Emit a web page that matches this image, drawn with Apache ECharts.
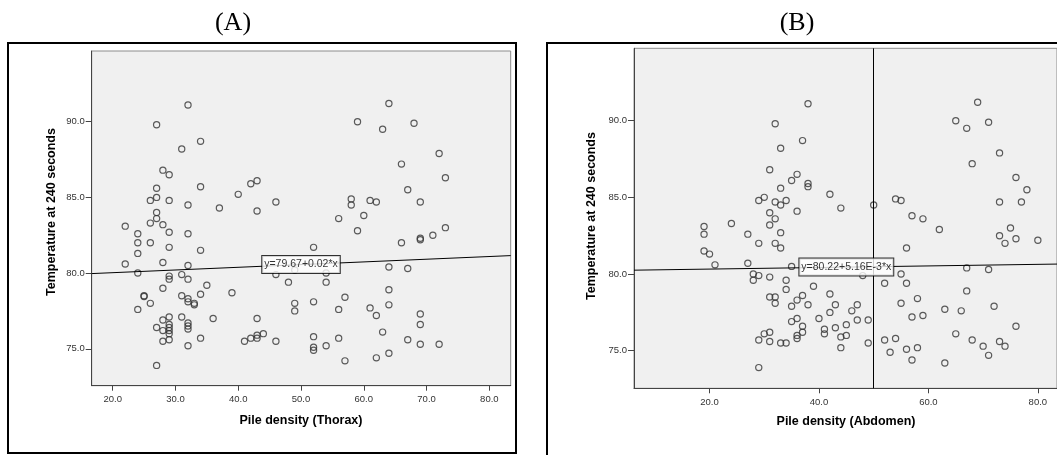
<!DOCTYPE html>
<html><head><meta charset="utf-8">
<script src="https://cdn.jsdelivr.net/npm/echarts@6/dist/echarts.min.js"></script>
<style>html,body{margin:0;padding:0;background:#fff;}#c{width:1057px;height:455px;}</style>
</head><body><div id="c"></div>
<script>
// Panel A: Pile density (Thorax) vs Temperature at 240 seconds
const thoraxX = [32,27,34,31,28,29,27,34,42,43,40,27,26,29,32,37,43,46,27,27,26,22,28,
  24,29,32,24,26,29,24,34,22,28,32,24,31,29,29,32,35,28,39,25,25,31,34,32,32,33,33,26,24,29,31,36,43,28,32,29,32,27,29,32,29,28,29,29,28,34,41,42,43,43,44,46,32,27,
  64,59,63,68,72,66,73,67,58,58,61,62,69,60,56,59,73,71,69,69,66,52,49,46,54,48,54,64,67,64,57,52,49,49,56,61,62,64,69,69,63,67,69,72,52,52,52,54,56,57,62,64];
const thoraxY = [91.1,89.8,88.7,88.2,86.8,86.5,85.6,85.7,85.9,86.1,85.2,85.0,84.8,84.8,84.5,84.3,84.1,84.7,84.0,83.6,83.3,83.1,83.2,
  82.6,82.7,82.6,82.0,82.0,81.7,81.3,81.5,80.6,80.7,80.5,80.0,79.9,79.8,79.6,79.6,79.2,79.0,78.7,78.5,78.45,78.5,78.6,78.3,78.1,78.0,77.9,78.0,77.6,77.1,77.1,77.0,77.0,76.9,76.7,76.6,76.5,76.4,76.4,76.3,76.2,76.2,76.0,75.6,75.5,75.7,75.5,75.7,75.7,75.9,76.0,75.5,75.2,73.9,
  91.2,90.0,89.5,89.9,87.9,87.2,86.3,85.5,84.9,84.5,84.8,84.7,84.7,83.8,83.6,82.8,83.0,82.5,82.3,82.2,82.0,81.7,80.2,79.9,80.0,79.4,79.4,80.4,80.3,78.9,78.4,78.1,78.0,77.5,77.6,77.7,77.2,77.9,77.3,76.6,76.1,75.6,75.3,75.3,75.8,75.1,74.9,75.2,75.7,74.2,74.4,74.7];

// Panel B: Pile density (Abdomen) vs Temperature at 240 seconds
const abdomenX = [32,33,31,36,35,33,30,29,32,34,33,36,31,32,31,19,24,
  38,37,38,38,42,44,50,69,65,67,71,73,68,76,78,73,77,54,55,57,59,62,75,
  73,76,74,80,56,35,67,71,55,48,52,56,39,42,37,36,38,35,43,47,46,42,58,55,63,66,57,59,67,72,76,36,35,40,49,47,37,37,41,41,43,45,45,44,36,36,44,49,52,54,53,56,58,57,63,65,68,70,71,73,74,
  19,27,33,29,32,33,19,20,21,27,28,29,28,31,34,34,31,32,32,31,30,29,31,33,34,29];
const abdomenY = [89.8,88.2,86.8,86.5,86.1,85.6,85.0,84.8,84.7,84.8,84.5,84.1,84.0,83.6,83.2,83.1,83.3,
  91.1,88.7,85.9,85.7,85.2,84.3,84.5,91.2,90.0,89.5,89.9,87.9,87.2,86.3,85.5,84.7,84.7,84.9,84.8,83.8,83.6,82.9,83.0,
  82.5,82.3,82.0,82.2,81.7,80.5,80.4,80.3,80.0,79.9,79.4,79.4,79.2,78.7,78.6,78.3,78.0,77.9,78.0,78.0,77.6,77.5,78.4,78.1,77.7,77.6,77.2,77.3,78.9,77.9,76.6,77.1,76.9,77.1,77.0,77.0,76.6,76.2,76.4,76.1,76.5,76.7,76.0,75.9,76.0,75.8,75.2,75.5,75.7,75.8,74.9,75.1,75.2,74.4,74.2,76.1,75.7,75.3,74.7,75.6,75.3,
  82.6,82.6,82.7,82.0,82.0,81.7,81.5,81.3,80.6,80.7,80.0,79.9,79.6,79.8,79.6,79.0,78.5,78.5,78.1,76.2,76.1,75.7,75.6,75.5,75.5,73.9];

const xTicksA = [20,30,40,50,60,70,80];
const xTicksB = [20,40,60,80];
const yTicks = [75,80,85,90];
const fitA = [79.67, 0.0178];   // intercept, slope (drawn line)
const fitB = [80.22, 0.00516];
const fitLabelA = 'y=79.67+0.02*x';
const fitLabelB = 'y=80.22+5.16E-3*x';
const refLineB = [50];
const panelTitles = ['(A)', '(B)'];
const xNames = ['Pile density (Thorax)', 'Pile density (Abdomen)'];
const yName = 'Temperature at 240 seconds';

const zip = (xs, ys) => xs.map((x, i) => [x, ys[i]]);
const rangeA = {xmin: 16.66, xmax: 83.4, ymin: 72.56, ymax: 94.67};
const rangeB = {xmin: 6.2, xmax: 83.5, ymin: 72.55, ymax: 94.72};
const fitLine = (f, r) => [[r.xmin, f[0] + f[1] * r.xmin], [r.xmax, f[0] + f[1] * r.xmax]];
const fitPoint = (f, x) => [[x, f[0] + f[1] * x]];

const FONT = '"Liberation Sans", Arial, sans-serif';
const tickLabel = {fontSize: 9.5, color: '#333', fontFamily: FONT};

function xAxis(idx, r, ticks) {
  return {
    type: 'value', gridIndex: idx, min: r.xmin, max: r.xmax,
    axisLine: {show: true, lineStyle: {color: '#444', width: 1}},
    axisTick: {show: true, length: 5, customValues: ticks, lineStyle: {color: '#444'}},
    axisLabel: {customValues: ticks, margin: 9, formatter: v => v.toFixed(1), ...tickLabel},
    splitLine: {show: false}
  };
}
function yAxis(idx, r) {
  return {
    type: 'value', gridIndex: idx, min: r.ymin, max: r.ymax,
    axisLine: {show: true, lineStyle: {color: '#444', width: 1}},
    axisTick: {show: true, length: 6, customValues: yTicks, lineStyle: {color: '#444'}},
    axisLabel: {customValues: yTicks, margin: 7, formatter: v => v.toFixed(1), ...tickLabel},
    splitLine: {show: false}
  };
}
const pointStyle = {color: 'rgba(0,0,0,0)', borderColor: '#333', borderWidth: 1.2};
function fitLabelSeries(idx, f, x, text) {
  return {
    type: 'scatter', xAxisIndex: idx, yAxisIndex: idx, data: fitPoint(f, x),
    symbol: 'rect', symbolSize: 2, itemStyle: {color: 'rgba(0,0,0,0)', borderWidth: 0}, z: 10, silent: true,
    label: {show: true, position: 'inside', formatter: () => text, color: '#000', fontSize: 10.5,
      fontFamily: FONT, backgroundColor: '#fff', borderColor: '#000', borderWidth: 1,
      padding: [3, 2, 3, 2]},
    labelLayout: {hideOverlap: false}
  };
}

const chart = echarts.init(document.getElementById('c'), null, {renderer: 'canvas'});
chart.setOption({
  animation: false,
  backgroundColor: '#fff',
  grid: [
    {left: 91.7, top: 51, width: 419, height: 334.7, show: true, backgroundColor: '#f0f0f0', borderColor: '#8c8c8c', borderWidth: 1},
    {left: 634, top: 48.3, width: 425.2, height: 340, show: true, backgroundColor: '#f0f0f0', borderColor: '#8c8c8c', borderWidth: 1}
  ],
  xAxis: [xAxis(0, rangeA, xTicksA), xAxis(1, rangeB, xTicksB)],
  yAxis: [yAxis(0, rangeA), yAxis(1, rangeB)],
  series: [
    {type: 'scatter', xAxisIndex: 0, yAxisIndex: 0, data: zip(thoraxX, thoraxY), symbol: 'circle', symbolSize: 6.2, itemStyle: pointStyle},
    {type: 'line', xAxisIndex: 0, yAxisIndex: 0, data: fitLine(fitA, rangeA), showSymbol: false, silent: true, lineStyle: {color: '#000', width: 1}, z: 5},
    fitLabelSeries(0, fitA, 50, fitLabelA),
    {type: 'scatter', xAxisIndex: 1, yAxisIndex: 1, data: zip(abdomenX, abdomenY), symbol: 'circle', symbolSize: 6.2, itemStyle: pointStyle,
      markLine: {silent: true, symbol: 'none', label: {show: false}, lineStyle: {color: '#000', width: 1, type: 'solid'},
        data: refLineB.map(v => ({xAxis: v}))}},
    {type: 'line', xAxisIndex: 1, yAxisIndex: 1, data: fitLine(fitB, rangeB), showSymbol: false, silent: true, lineStyle: {color: '#000', width: 1}, z: 5},
    fitLabelSeries(1, fitB, 45, fitLabelB)
  ],
  graphic: [
    {type: 'rect', shape: {x: 8, y: 43, width: 508, height: 410}, style: {fill: 'none', stroke: '#000', lineWidth: 2}, z: 100},
    {type: 'rect', shape: {x: 547, y: 43, width: 530, height: 430}, style: {fill: 'none', stroke: '#000', lineWidth: 2}, z: 100},
    {type: 'text', x: 233, y: 23, style: {text: panelTitles[0], align: 'center', verticalAlign: 'middle', font: '26px "Liberation Serif", "Times New Roman", serif', fill: '#000'}},
    {type: 'text', x: 797, y: 23, style: {text: panelTitles[1], align: 'center', verticalAlign: 'middle', font: '26px "Liberation Serif", "Times New Roman", serif', fill: '#000'}},
    {type: 'text', x: 52, y: 212, rotation: Math.PI / 2, style: {text: yName, align: 'center', verticalAlign: 'middle', font: 'bold 12.5px ' + FONT, fill: '#000'}},
    {type: 'text', x: 592, y: 216, rotation: Math.PI / 2, style: {text: yName, align: 'center', verticalAlign: 'middle', font: 'bold 12.5px ' + FONT, fill: '#000'}},
    {type: 'text', x: 301, y: 421, style: {text: xNames[0], align: 'center', verticalAlign: 'middle', font: 'bold 12.5px ' + FONT, fill: '#000'}},
    {type: 'text', x: 846, y: 422, style: {text: xNames[1], align: 'center', verticalAlign: 'middle', font: 'bold 12.5px ' + FONT, fill: '#000'}}
  ]
});
</script></body></html>
